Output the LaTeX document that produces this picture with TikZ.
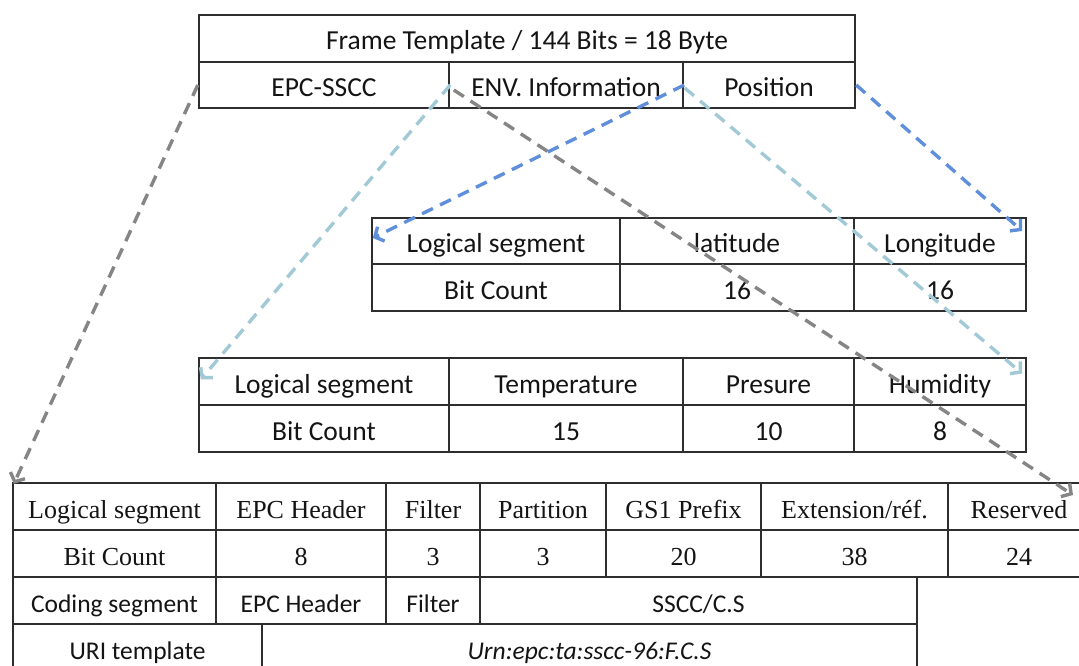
\documentclass[tikz,border=0pt]{standalone}
\usepackage{fontspec}
\setmainfont{Carlito}
\newfontfamily\timesfont{Liberation Serif}
\usetikzlibrary{arrows.meta}
\definecolor{gridc}{HTML}{2E2E2E}
\definecolor{txtc}{HTML}{141414}
\definecolor{grayarr}{HTML}{858585}
\definecolor{lblue}{HTML}{A2CAD6}
\definecolor{mblue}{HTML}{5F8FDB}
\tikzset{
  cell/.style={draw=gridc, line width=2.4pt, inner sep=0pt, text=txtc,
    text height=23pt, text depth=0pt,
    font=\fontsize{27.5}{30}\selectfont},
  tcell/.style={font=\timesfont\fontsize{26}{28}\selectfont},
  ccell/.style={font=\fontsize{25.5}{28}\selectfont},
  conn/.style={line width=3.4pt, dash pattern=on 12pt off 8pt,
    -{Straight Barb[length=7pt,width=16pt]}},
}
\newcommand\tc[7][]{\node[cell,#1,minimum width={(#5-#3)*1pt},minimum height={(#6-#4)*1pt}] (#2) at ({(#3+#5)/2},{(#4+#6)/2}) {#7};}
\begin{document}
\begin{tikzpicture}[x=1pt,y=-1pt]
\useasboundingbox (0,0) rectangle (1079,666);
% top table
\tc{ft}{199}{15}{855}{62}{Frame Template / 144 Bits = 18 Byte}
\tc{epc}{199}{62}{449}{108}{EPC-SSCC}
\tc{env}{449}{62}{683}{108}{ENV. Information}
\tc{pos}{683}{62}{855}{108}{Position}
% position table
\tc{pls}{372}{218}{620}{264}{Logical segment}
\tc{plat}{620}{218}{854}{264}{latitude}
\tc{plon}{854}{218}{1026}{264}{Longitude}
\tc{pbc}{372}{264}{620}{311}{Bit Count}
\tc{platn}{620}{264}{854}{311}{16}
\tc{plonn}{854}{264}{1026}{311}{16}
% env table
\tc{els}{199}{358}{449}{405}{Logical segment}
\tc{etemp}{449}{358}{683}{405}{Temperature}
\tc{epres}{683}{358}{854}{405}{Presure}
\tc{ehum}{854}{358}{1026}{405}{Humidity}
\tc{ebc}{199}{405}{449}{452}{Bit Count}
\tc{etempn}{449}{405}{683}{452}{15}
\tc{epresn}{683}{405}{854}{452}{10}
\tc{ehumn}{854}{405}{1026}{452}{8}
% EPC table
\tc[tcell]{bls}{13}{483}{216}{530}{Logical segment}
\tc[tcell]{bhdr}{216}{483}{386}{530}{EPC Header}
\tc[tcell]{bfil}{386}{483}{480}{530}{Filter}
\tc[tcell]{bpart}{480}{483}{606}{530}{Partition}
\tc[tcell]{bgs}{606}{483}{761}{530}{GS1 Prefix}
\tc[tcell]{bext}{761}{483}{948}{530}{Extension/réf.}
\tc[tcell]{bres}{948}{483}{1090}{530}{Reserved}
\tc[tcell]{bbc}{13}{530}{216}{577}{Bit Count}
\tc[tcell]{bhdrn}{216}{530}{386}{577}{8}
\tc[tcell]{bfiln}{386}{530}{480}{577}{3}
\tc[tcell]{bpartn}{480}{530}{606}{577}{3}
\tc[tcell]{bgsn}{606}{530}{761}{577}{20}
\tc[tcell]{bextn}{761}{530}{948}{577}{38}
\tc[tcell]{bresn}{948}{530}{1090}{577}{24}
\tc[ccell]{bcs}{13}{577}{216}{624}{Coding segment}
\tc[ccell]{bchdr}{216}{577}{386}{624}{EPC Header}
\tc[ccell]{bcfil}{386}{577}{480}{624}{Filter}
\tc[ccell]{bsscc}{480}{577}{917}{624}{SSCC/C.S}
\tc[ccell]{buri}{13}{624}{262}{671}{URI template}
\tc[ccell]{burn}{262}{624}{917}{671}{\itshape Urn:epc:ta:sscc-96:F.C.S}
% connectors
\coordinate (resend) at (1073,495);
\draw[conn, grayarr] (epc.west) -- ([xshift=2pt,yshift=-2pt]bls.north west);
\draw[conn, lblue] (epc.east) -- ([xshift=3pt,yshift=2pt]els.west);
\draw[conn, mblue] (env.east) -- ([xshift=2pt,yshift=3pt]pls.west);
\draw[conn, grayarr] ([xshift=6pt,yshift=-5pt]env.west) -- (resend);
\draw[conn, lblue] ([xshift=3pt,yshift=-3pt]pos.west) -- ([xshift=-5pt,yshift=8pt]ehum.east);
\draw[conn, mblue] (pos.east) -- ([xshift=-5pt,yshift=10pt]plon.east);
\end{tikzpicture}
\end{document}
